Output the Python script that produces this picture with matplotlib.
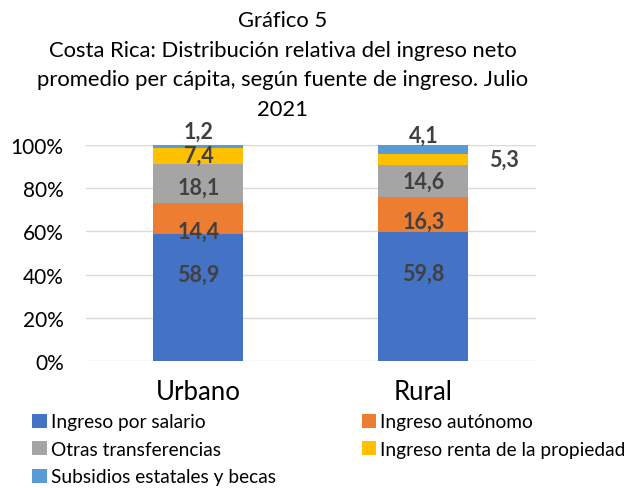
import matplotlib.pyplot as plt
import numpy as np

plt.rcParams['font.family'] = ['Lato', 'DejaVu Sans']

# datos del grafico
zonas = ['Urbano', 'Rural']
series = ['Ingreso por salario', 'Ingreso autónomo', 'Otras transferencias',
          'Ingreso renta de la propiedad', 'Subsidios estatales y becas']
salario = [58.9, 59.8]
autonomo = [14.4, 16.3]
transferencias = [18.1, 14.6]
renta = [7.4, 5.3]
subsidios = [1.2, 4.1]

colores = ['#4472C4', '#ED7D31', '#A5A5A5', '#FFC000', '#5B9BD5']
valores = [salario, autonomo, transferencias, renta, subsidios]

fig = plt.figure(figsize=(6.34, 4.89), dpi=100)
ax = fig.add_axes([0.1356, 0.2597, 0.7098, 0.4417])

x = np.arange(len(zonas))
base = np.zeros(len(zonas))
barras = []
for nombre, vals, col in zip(series, valores, colores):
    ax.bar(x, vals, 0.4, bottom=base, color=col, label=nombre, zorder=3)
    barras.append((vals, base.copy()))
    base = base + np.array(vals)

# etiquetas de datos (desplazamientos en puntos, como en el original)
desp = [
    [(0, 17), (0, 17)],     # salario
    [(0, -9), (0, -5)],     # autonomo
    [(0, -3), (0, 0)],      # transferencias
    [(0, 0), (15, 0)],      # renta
    [(0, 11), (0, 10)],     # subsidios
]
for s, (vals, bot) in enumerate(barras):
    for i in range(len(zonas)):
        yc = bot[i] + vals[i] / 2
        dx, dy = desp[s][i]
        if s == 3 and i == 1:
            xc = x[i] + 0.2
            ha = 'left'
        else:
            xc = x[i]
            ha = 'center'
        ax.annotate(f'{vals[i]:.1f}'.replace('.', ','), (xc, yc),
                    xytext=(dx, dy), textcoords='offset points',
                    ha=ha, va='center', fontsize=15.5, fontweight='bold',
                    color='#404040', annotation_clip=False, zorder=5)

ax.set_xlim(-0.5, 1.5)
ax.set_ylim(0, 100)
ax.set_yticks(range(0, 101, 20))
ax.set_yticklabels([f'{v}%' for v in range(0, 101, 20)], fontsize=15)
ax.set_xticks(x)
ax.set_xticklabels(zonas, fontsize=18.5)
ax.tick_params(length=0)
ax.tick_params(axis='y', pad=16)
ax.tick_params(axis='x', pad=13)
ax.grid(axis='y', color='#D9D9D9', linewidth=1, zorder=0)
for sp in ax.spines.values():
    sp.set_visible(False)

fig.text(0.446, 0.977, 'Gráfico 5\nCosta Rica: Distribución relativa del ingreso neto\n'
         'promedio per cápita, según fuente de ingreso. Julio\n2021',
         ha='center', va='top', fontsize=15.8, linespacing=1.6)

handles, labels = ax.get_legend_handles_labels()
orden = [0, 2, 4, 1, 3]
fig.legend([handles[k] for k in orden], [labels[k] for k in orden],
           loc='upper left', bbox_to_anchor=(0.03, 0.18), ncol=2,
           frameon=False, fontsize=13.8, handlelength=0.75, handleheight=0.75,
           handletextpad=0.2, columnspacing=4.5, labelspacing=0.55,
           borderpad=0.2)

fig.savefig('out.png', dpi=100)
